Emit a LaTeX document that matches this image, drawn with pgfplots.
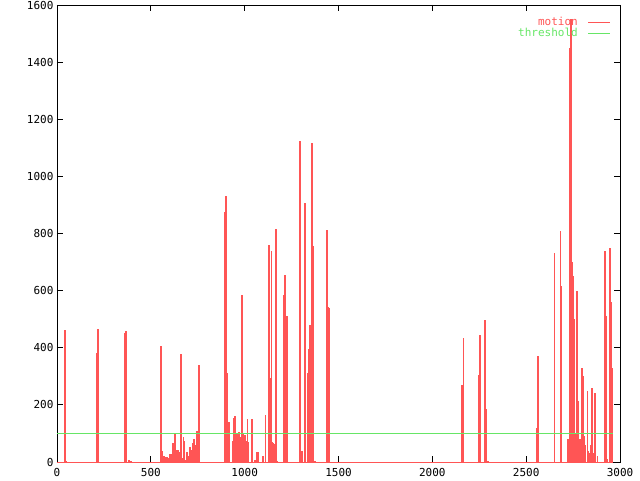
\documentclass[border=0pt]{standalone}
\usepackage{pgfplots}
\pgfplotsset{compat=1.18}
\usepackage{fontspec}
\setmainfont{DejaVu Sans Mono}
\definecolor{motionred}{RGB}{255,85,85}
\definecolor{thrgreen}{RGB}{102,230,102}
\begin{document}
\begin{tikzpicture}
\useasboundingbox (-57pt,-18pt) rectangle (583pt,462pt);
\begin{axis}[
  anchor=south west, at={(0pt,0pt)},
  width=563pt, height=457pt, scale only axis,
  xmin=0, xmax=3000, ymin=0, ymax=1600,
  xtick={0,500,...,3000}, ytick={0,200,...,1600},
  tick align=inside, major tick length=6pt,
  axis line style={black, line width=0.8pt},
  tick style={black, line width=0.8pt},
  /pgf/number format/assume math mode=true,
  /pgf/number format/1000 sep={},
  tick label style={font=\fontsize{11}{11}\selectfont},
  xticklabel style={yshift=-3pt},
  legend cell align=right,
  legend plot pos=right,
  legend style={draw=none, fill=none, at={(0.984,0.978)}, anchor=north east,
    font=\fontsize{11}{11}\selectfont, row sep=-3pt, inner sep=0pt,
    /tikz/every odd column/.append style={column sep=8pt}},
  clip=true,
]
\addplot[ycomb, motionred, line width=1.2pt, mark=none,
  legend image code/.code={\draw[motionred, line width=1pt] (0pt,0pt) -- (22pt,0pt);}]
coordinates {
(43,462) (48,5)
(213,383) (219,466)
(362,453) (368,459) (384,7) (389,4) (394,4)
(554,406) (560,38) (565,22) (570,22) (576,18) (581,15) (586,18) (592,15) (597,15)
(602,27) (608,23) (613,27) (618,68) (624,29) (629,98) (634,42) (640,15) (645,42)
(650,35) (656,18) (661,378) (666,15) (672,89) (677,72) (682,7) (688,9) (693,36)
(698,22) (704,20) (709,51) (714,42) (720,36) (725,68) (730,82) (736,60) (741,60)
(746,108) (752,214) (757,340)
(895,876) (901,932) (906,311) (911,84) (917,140)
(938,73) (943,154) (949,161) (954,95) (959,98) (965,91) (970,105) (975,88)
(981,305) (986,586) (991,98) (997,90) (1002,95) (1007,75) (1013,151) (1018,71)
(1039,150) (1050,1) (1055,7) (1061,10) (1066,36) (1071,36) (1077,1)
(1093,8) (1098,20) (1109,164)
(1125,690) (1130,760) (1135,295) (1141,739) (1146,71) (1151,65) (1157,5) (1162,63)
(1167,815) (1173,2)
(1205,585) (1210,519) (1215,654) (1221,12) (1226,511)
(1295,1124) (1300,24) (1306,38) (1322,908) (1333,312) (1338,138) (1343,396)
(1348,480) (1354,574) (1359,1118) (1364,756) (1370,2) (1375,2)
(1439,812) (1444,544) (1450,538)
(2158,270) (2164,435)
(2249,305) (2254,445)
(2281,497) (2286,186) (2292,4) (2297,4)
(2558,120) (2563,370)
(2649,730)
(2681,810) (2686,615)
(2723,80) (2729,1450) (2734,1450) (2739,1550) (2745,700) (2750,650) (2755,500)
(2761,100) (2771,600) (2777,215) (2787,80) (2793,110) (2798,330) (2803,300)
(2809,90) (2814,60) (2825,250) (2830,40) (2835,30) (2841,60) (2851,260)
(2857,30) (2867,240) (2878,20)
(2920,740) (2926,510) (2931,10) (2947,750) (2952,560) (2958,330)
};
\addlegendentry{\textcolor{motionred}{motion}}
\addplot[motionred, line width=1pt, forget plot] coordinates {(0,0) (2965,0)};
\addplot[thrgreen, line width=1pt, mark=none,
  legend image code/.code={\draw[thrgreen, line width=1pt] (0pt,0pt) -- (22pt,0pt);}]
coordinates {(0,100) (2965,100)};
\addlegendentry{\textcolor{thrgreen}{threshold}}
\end{axis}
\end{tikzpicture}
\end{document}
